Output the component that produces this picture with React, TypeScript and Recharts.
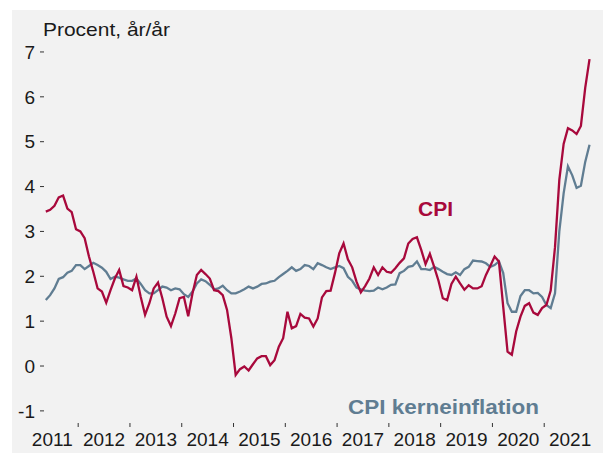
import { LineChart, Line, XAxis, YAxis } from "recharts";

// monthly y/y, May 2011 .. Nov 2021
const startYear = 2011;
const startMonth = 4; // May (0-based)

const cpi = [
  3.44, 3.48, 3.57, 3.76, 3.8, 3.51, 3.43, 3.05,
  3.0, 2.85, 2.44, 2.1, 1.73, 1.66, 1.41, 1.69, 1.95, 2.14, 1.78, 1.75,
  1.69, 1.99, 1.54, 1.14, 1.4, 1.73, 1.86, 1.51, 1.1, 0.89, 1.17, 1.51,
  1.54, 1.11, 1.62, 2.03, 2.14, 2.05, 1.95, 1.69, 1.67, 1.58, 1.25, 0.62,
  -0.2, -0.07, -0.01, -0.1, 0.04, 0.17, 0.22, 0.22, 0.02, 0.13, 0.43, 0.62,
  1.21, 0.84, 0.89, 1.16, 1.08, 1.06, 0.88, 1.06, 1.53, 1.67, 1.68, 2.07,
  2.51, 2.73, 2.38, 2.2, 1.88, 1.64, 1.78, 1.95, 2.2, 2.03, 2.2, 2.1,
  2.08, 2.18, 2.3, 2.4, 2.73, 2.83, 2.87, 2.59, 2.27, 2.5, 2.21, 1.9,
  1.51, 1.47, 1.83, 1.99, 1.84, 1.7, 1.8, 1.73, 1.73, 1.78, 2.03, 2.23,
  2.44, 2.33, 1.32, 0.32, 0.25, 0.77, 1.1, 1.34, 1.4, 1.19, 1.14, 1.29,
  1.36, 1.68, 2.65, 4.15, 4.95, 5.3, 5.25, 5.17, 5.35, 6.2, 6.84,
];

const core = [
  1.47, 1.58, 1.73, 1.94, 1.98, 2.08, 2.12, 2.25,
  2.25, 2.16, 2.23, 2.3, 2.25, 2.19, 2.1, 1.94, 1.99, 1.97, 1.93, 1.9,
  1.9, 1.95, 1.83, 1.69, 1.62, 1.62, 1.69, 1.77, 1.75, 1.69, 1.73, 1.71,
  1.6, 1.54, 1.66, 1.84, 1.93, 1.89, 1.81, 1.71, 1.73, 1.79, 1.69, 1.62,
  1.62, 1.66, 1.71, 1.77, 1.73, 1.77, 1.83, 1.84, 1.88, 1.9, 1.98, 2.05,
  2.12, 2.2, 2.12, 2.16, 2.25, 2.23, 2.16, 2.29, 2.25, 2.2, 2.16, 2.2,
  2.23, 2.18, 1.99, 1.9, 1.75, 1.71, 1.68, 1.67, 1.68, 1.75, 1.71, 1.75,
  1.81, 1.82, 2.07, 2.12, 2.21, 2.23, 2.33, 2.16, 2.16, 2.14, 2.21, 2.16,
  2.1, 2.05, 2.03, 2.09, 2.03, 2.16, 2.21, 2.35, 2.34, 2.33, 2.29, 2.21,
  2.25, 2.33, 2.07, 1.4, 1.21, 1.21, 1.56, 1.69, 1.69, 1.62, 1.63, 1.54,
  1.36, 1.29, 1.62, 3.0, 3.85, 4.45, 4.25, 3.97, 4.02, 4.55, 4.93,
];

const years = [2011, 2012, 2013, 2014, 2015, 2016, 2017, 2018, 2019, 2020, 2021];
const yTicks = [-1, 0, 1, 2, 3, 4, 5, 6, 7];

const data = cpi.map((v, i) => ({
  t: startYear + (startMonth + i + 0.5) / 12,
  cpi: v,
  core: core[i],
}));

// labels sit mid-year, tick marks on the year boundaries
const xTicks: number[] = [];
years.forEach((y, i) => {
  if (i > 0) xTicks.push(y);
  xTicks.push(y + 0.5);
});

const RED = "#a8093c";
const BLUE = "#607d92";
const FONT = "'Liberation Sans', Arial, sans-serif";

function YearTick({ x, y, payload }: any) {
  const v = payload.value;
  if (Number.isInteger(v)) {
    return <line x1={x} x2={x} y1={y - 10} y2={y - 6} stroke="#333" strokeWidth={1} />;
  }
  return (
    <text x={x} y={y} dy="0.71em" textAnchor="middle" fontSize={19} fontFamily={FONT} fill="#1a1a1a">
      {Math.floor(v)}
    </text>
  );
}

export default function App() {
  return (
    <div style={{ position: "absolute", left: 0, top: 0, width: 603, height: 453, background: "#fff" }}>
      <div style={{ position: "absolute", left: 12, top: 10, width: 591, height: 443, background: "#f2f2f2" }}>
        <LineChart width={591} height={443} data={data} margin={{ top: 28.5, right: 7, bottom: 0, left: 0 }}>
          <XAxis
            dataKey="t"
            type="number"
            domain={[2011.34, 2022]}
            ticks={xTicks}
            interval={0}
            axisLine={false}
            tickLine={false}
            tickSize={4}
            tickMargin={6}
            height={30}
            tick={<YearTick />}
          />
          <YAxis
            type="number"
            domain={[-1.27, 7.3]}
            ticks={yTicks}
            interval={0}
            width={32}
            axisLine={false}
            tickSize={4}
            tickMargin={5}
            tickLine={{ stroke: "#333" }}
            tick={{ fontSize: 19, fontFamily: FONT, fill: "#1a1a1a" }}
          />
          <Line type="linear" dataKey="core" stroke={BLUE} strokeWidth={2.3} dot={false} isAnimationActive={false} />
          <Line type="linear" dataKey="cpi" stroke={RED} strokeWidth={2.3} dot={false} isAnimationActive={false} />
        </LineChart>
      </div>
      <svg width={603} height={453} style={{ position: "absolute", left: 0, top: 0, pointerEvents: "none" }}>
        <text x={43} y={36} fontSize={19} textLength={127} lengthAdjust="spacingAndGlyphs" fontFamily={FONT} fill="#1a1a1a">
          Procent, år/år
        </text>
        <text x={418} y={216} fontSize={21} fontWeight="bold" fontFamily={FONT} fill={RED}>
          CPI
        </text>
        <text x={348} y={414} fontSize={21} fontWeight="bold" textLength={191} lengthAdjust="spacingAndGlyphs" fontFamily={FONT} fill={BLUE}>
          CPI kerneinflation
        </text>
      </svg>
    </div>
  );
}
